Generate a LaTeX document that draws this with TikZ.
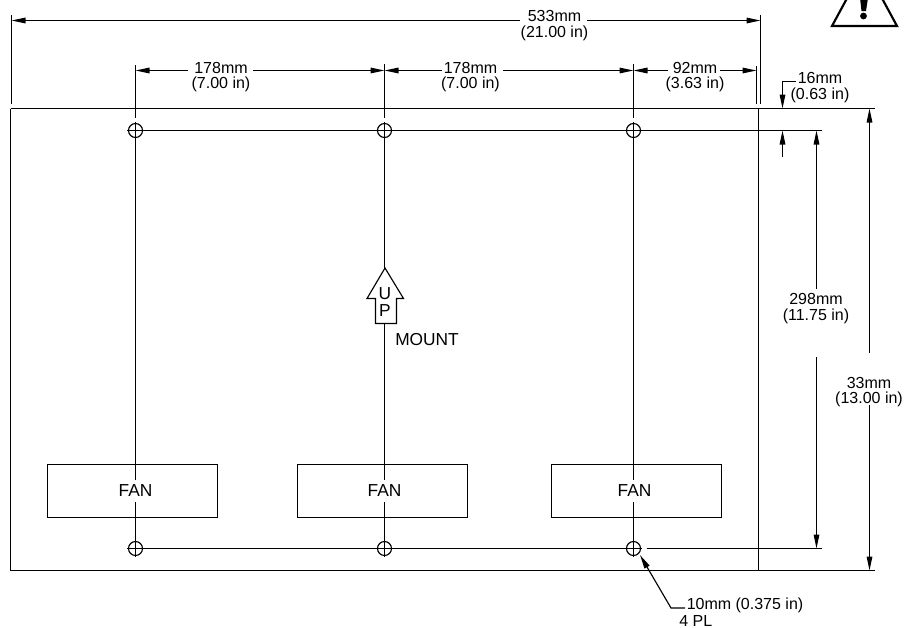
\documentclass[tikz,border=0pt]{standalone}
\usepackage{fontspec}
\usepackage{tikz}
\setmainfont{Liberation Sans}
\usetikzlibrary{arrows.meta}

\tikzset{
  tipline/.style={line width=0.85pt,-{Triangle[length=10.5pt,width=4.2pt]}},
  thinline/.style={line width=0.85pt},
  dimlabel/.style={inner sep=0pt,align=center,font=\fontsize{12}{11.5}\selectfont},
  plainlabel/.style={inner sep=0pt,anchor=west,font=\fontsize{12}{14}\selectfont},
  holemark/.style={draw,circle,line width=0.85pt,minimum size=10.5pt,inner sep=0pt},
  fanbox/.style={draw,line width=0.85pt,minimum width=127.5pt,minimum height=39.75pt,inner sep=0pt},
  fanlabel/.style={fill=white,inner xsep=1pt,inner ysep=3.6pt,font=\fontsize{13}{14}\selectfont}
}

\begin{document}
\begin{tikzpicture}[x=0.75pt,y=0.75pt,yscale=-1,xscale=1]
\useasboundingbox (0,0) rectangle (915,628);
\clip (0,0) rectangle (915,628);

%Shape: Warning triangle
\draw [line width=1.6pt,line join=miter] (832,26) -- (864.5,-34) -- (897,26) -- cycle ;
\fill (860,-2) -- (868,-2) -- (866,11) -- (861.5,11) -- cycle ;
\fill (863.5,16) circle (3.4) ;

%Coordinates: frame
\coordinate (frameTL) at (10.5,108.5);
\coordinate (frameTR) at (758.5,108.5);
\coordinate (frameBL) at (10.5,570.5);
\coordinate (frameBR) at (758.5,570.5);
\coordinate (topEnd) at (875,108.5);
\coordinate (bottomEnd) at (875,570.5);

%Straight Lines: frame
\draw [thinline] (frameTL) -- (topEnd) ;
\draw [thinline] (frameBL) -- (bottomEnd) ;
\draw [thinline] (frameTL) -- (frameBL) ;
\draw [thinline] (frameTR) -- (frameBR) ;

%Shape: Holes
\node [holemark] (holeTA) at (135.5,130.5) {};
\node [holemark] (holeTB) at (384.5,130.5) {};
\node [holemark] (holeTC) at (633.5,130.5) {};
\node [holemark] (holeBA) at (135.5,548.5) {};
\node [holemark] (holeBB) at (384.5,548.5) {};
\node [holemark] (holeBC) at (633.5,548.5) {};

%Coordinates: center lines
\coordinate (rowTopStart) at (127,130.5);
\coordinate (rowTopEnd) at (822,130.5);
\coordinate (rowBotStart) at (127,548.5);
\coordinate (rowBotStop) at (642,548.5);
\coordinate (rowBotNext) at (646.5,548.5);
\coordinate (rowBotEnd) at (822,548.5);
\coordinate (colAStart) at (135.5,122);
\coordinate (colBStart) at (384.5,122);
\coordinate (colCStart) at (633.5,122);
\coordinate (colAEnd) at (135.5,556.5);
\coordinate (colBEnd) at (384.5,556.5);
\coordinate (colCEnd) at (633.5,556.5);

%Straight Lines: center lines
\draw [thinline] (rowTopStart) -- (rowTopEnd) ;
\draw [thinline] (rowBotStart) -- (rowBotStop) ;
\draw [thinline] (rowBotNext) -- (rowBotEnd) ;
\draw [thinline] (colAStart) -- (colAEnd) ;
\draw [thinline] (colBStart) -- (colBEnd) ;
\draw [thinline] (colCStart) -- (colCEnd) ;

%Shape: Fan boxes
\node [fanbox] (fanA) at (132.5,491) {};
\node [fanbox] (fanB) at (382.5,491) {};
\node [fanbox] (fanC) at (636.5,491) {};
\node [fanlabel] (fanTextA) at (135.5,491) {FAN};
\node [fanlabel] (fanTextB) at (384.5,491) {FAN};
\node [fanlabel] (fanTextC) at (634.5,491) {FAN};

%Shape: Up arrow
\draw [thinline,fill=white] (385,268) -- (403.5,298.5) -- (396.5,298.5) -- (396.5,323.5) -- (375.5,323.5) -- (375.5,298.5) -- (367,298.5) -- cycle ;
\node [inner sep=0pt,align=center,font=\fontsize{13}{12.75}\selectfont] (upText) at (385,302) {U\\P};
\node [plainlabel,font=\fontsize{13}{14}\selectfont] (mountText) at (395,340) {MOUNT};

%Coordinates: witness lines
\coordinate (witLeftTop) at (11.5,15);
\coordinate (witLeftBot) at (11.5,104);
\coordinate (witRightTop) at (760.5,15);
\coordinate (witRightBot) at (760.5,104);
\coordinate (witShortTop) at (756.5,66);
\coordinate (witShortBot) at (756.5,104);
\coordinate (witATop) at (135.5,65);
\coordinate (witABot) at (135.5,118);
\coordinate (witBTop) at (384.5,64);
\coordinate (witBBot) at (384.5,118);
\coordinate (witCTop) at (633.5,64);
\coordinate (witCBot) at (633.5,118);

%Straight Lines: witness lines
\draw [thinline] (witLeftTop) -- (witLeftBot) ;
\draw [thinline] (witRightTop) -- (witRightBot) ;
\draw [thinline] (witShortTop) -- (witShortBot) ;
\draw [thinline] (witATop) -- (witABot) ;
\draw [thinline] (witBTop) -- (witBBot) ;
\draw [thinline] (witCTop) -- (witCBot) ;

%Coordinates: dimension ends
\coordinate (dimAllL) at (11.5,20.5);
\coordinate (gapAllL) at (520,20.5);
\coordinate (gapAllR) at (587,20.5);
\coordinate (dimAllR) at (760.5,20.5);
\coordinate (dimA) at (135.5,70.5);
\coordinate (gapAL) at (188,70.5);
\coordinate (gapAR) at (253,70.5);
\coordinate (dimB) at (384.5,70.5);
\coordinate (gapBL) at (442,70.5);
\coordinate (gapBR) at (503,70.5);
\coordinate (dimC) at (633.5,70.5);
\coordinate (gapCL) at (668,70.5);
\coordinate (gapCR) at (720,70.5);
\coordinate (dimD) at (756.5,70.5);
\coordinate (dimHoleT) at (816.5,130.5);
\coordinate (gapHoleT) at (816.5,289);
\coordinate (gapHoleB) at (816.5,357);
\coordinate (dimHoleB) at (816.5,548.5);
\coordinate (dimAllT) at (869.5,108.5);
\coordinate (gapTallT) at (869.5,352.5);
\coordinate (gapTallB) at (869.5,405);
\coordinate (dimAllB) at (869.5,570.5);
\coordinate (offLabel) at (796,81.5);
\coordinate (offBend) at (782.5,81.5);
\coordinate (offTip) at (782.5,108.5);
\coordinate (offStart) at (782.5,157);
\coordinate (offTipB) at (782.5,130.5);
\coordinate (leadLabel) at (685,608);
\coordinate (leadBend) at (671,608);
\coordinate (leadTip) at (640,555);

%Straight Lines: dimensions
\draw [tipline] (gapAllL) -- (dimAllL) ;
\draw [tipline] (gapAllR) -- (dimAllR) ;
\draw [tipline] (gapAL) -- (dimA) ;
\draw [tipline] (gapAR) -- (dimB) ;
\draw [tipline] (gapBL) -- (dimB) ;
\draw [tipline] (gapBR) -- (dimC) ;
\draw [tipline] (gapCL) -- (dimC) ;
\draw [tipline] (gapCR) -- (dimD) ;
\draw [tipline] (gapHoleT) -- (dimHoleT) ;
\draw [tipline] (gapHoleB) -- (dimHoleB) ;
\draw [tipline] (gapTallT) -- (dimAllT) ;
\draw [tipline] (gapTallB) -- (dimAllB) ;
\draw [tipline] (offLabel) -- (offBend) -- (offTip) ;
\draw [tipline] (offStart) -- (offTipB) ;
\draw [tipline] (leadLabel) -- (leadBend) -- (leadTip) ;

% Text Node
\node [dimlabel] (lblAll) at (554.5,25.5) {533mm\\(21.00 in)};
\node [dimlabel] (lblA) at (221,77) {178mm\\(7.00 in)};
\node [dimlabel] (lblB) at (470.5,77) {178mm\\(7.00 in)};
\node [dimlabel] (lblC) at (695,77) {92mm\\(3.63 in)};
\node [dimlabel] (lblOff) at (820,87.5) {16mm\\(0.63 in)};
\node [dimlabel] (lblHoles) at (816,308.5) {298mm\\(11.75 in)};
\node [dimlabel] (lblHeight) at (869,392) {33mm\\(13.00 in)};
\node [plainlabel] (lblHole) at (686.5,605) {10mm (0.375 in)};
\node [plainlabel] (lblPlaces) at (679,621) {4 PL};

\end{tikzpicture}
\end{document}
